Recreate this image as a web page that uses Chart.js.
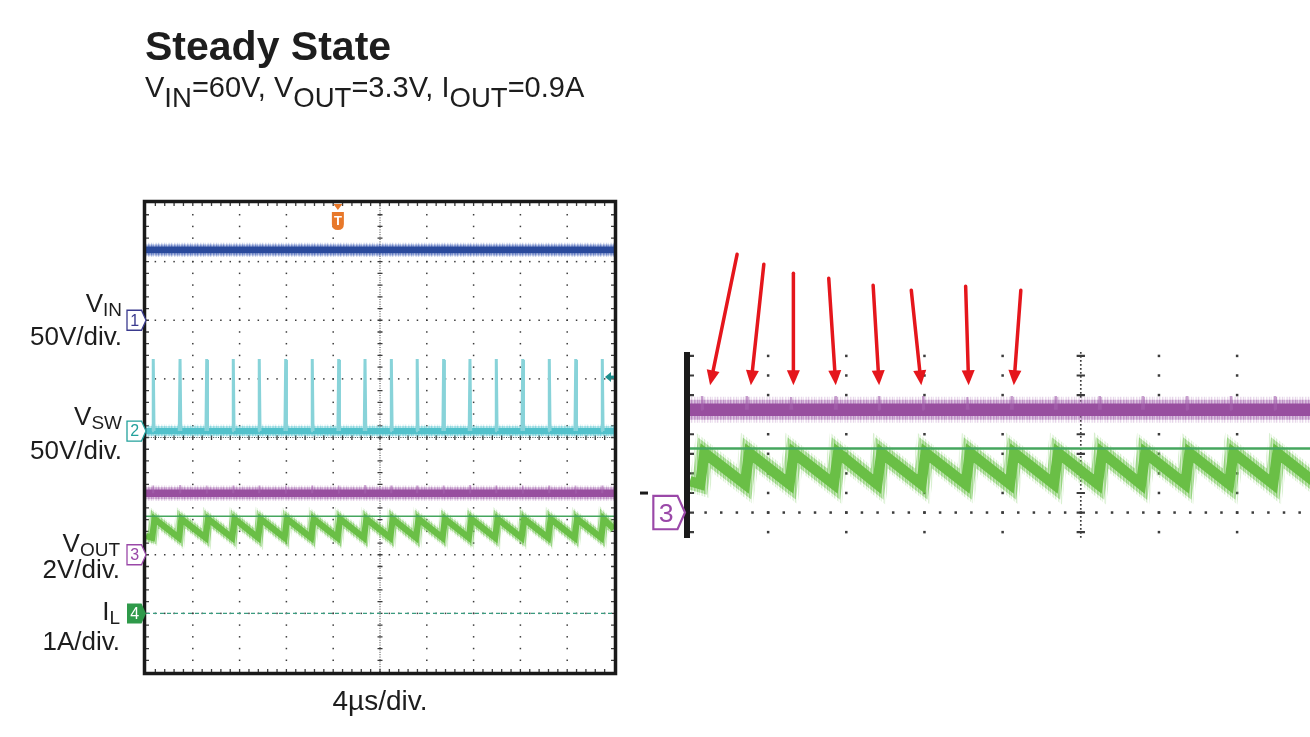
<!DOCTYPE html>
<html>
<head>
<meta charset="utf-8">
<script src="https://cdn.jsdelivr.net/npm/chart.js@4.4.1/dist/chart.umd.min.js"></script>
<style>
  body { margin:0; background:#fff; }
  #wrap { position:relative; width:1310px; height:737px; overflow:hidden; font-family:"Liberation Sans", Arial, sans-serif; color:#1d1d1d; }
  canvas { position:absolute; left:0; top:0; }
  .t { position:absolute; line-height:1; white-space:nowrap; }
  .lbl { font-size:26px; text-align:right; }
  .lbl sub { font-size:0.73em; vertical-align:baseline; position:relative; top:0.23em; }
  #sub sub { font-size:0.95em; vertical-align:baseline; position:relative; top:0.35em; }
</style>
</head>
<body>
<div id="wrap">
  <canvas id="scope" width="1310" height="737"></canvas>
  <canvas id="zoomView" width="1310" height="737"></canvas>

  <div class="t" id="title" style="left:145px; top:26px; font-size:41px; font-weight:bold;">Steady State</div>
  <div class="t" id="sub" style="left:145px; top:73px; font-size:29px;">V<sub>IN</sub>=60V, V<sub>OUT</sub>=3.3V, I<sub>OUT</sub>=0.9A</div>

  <div class="t lbl" style="right:1188px; top:290px;">V<sub>IN</sub></div>
  <div class="t lbl" style="right:1188px; top:323px;">50V/div.</div>
  <div class="t lbl" style="right:1188px; top:403px;">V<sub>SW</sub></div>
  <div class="t lbl" style="right:1188px; top:437px;">50V/div.</div>
  <div class="t lbl" style="right:1190px; top:530px;">V<sub>OUT</sub></div>
  <div class="t lbl" style="right:1190px; top:556px;">2V/div.</div>
  <div class="t lbl" style="right:1190px; top:598px;">I<sub>L</sub></div>
  <div class="t lbl" style="right:1190px; top:628px;">1A/div.</div>

  <div class="t" style="left:380px; top:687px; font-size:28px; transform:translateX(-50%);">4µs/div.</div>
</div>

<script>
// --- values: time in µs, level in divisions from the bottom ---
const switchTimes = [0.62, 2.91, 5.19, 7.46, 9.68, 11.94, 14.21, 16.47, 18.72, 20.97, 23.18, 25.44, 27.69, 29.94, 32.20, 34.47, 36.73, 39.00];
const vinLevel = 7.20;
const vswLow = 4.11;
const vswHigh = 5.32;
const voutLevel = 3.05;
const voutSpike = 3.18;
const ilStart = 2.32;
const ilTrough = 2.29;
const ilPeak = 2.61;
const ilEnd = 2.44;
const ilCursor = 2.655;
const ilZero = 1.0;
const channelRefs = [6.0, 4.11, 2.0, 1.0];   // tags 1..4
const triggerTime = 16.4;
const triggerLevel = 5.03;

const timeRange = [0, 40];
const divRange = [0, 8];
const zoomTime = [-0.05, 31.73];
const zoomDiv = [1.74, 3.64];
const arrowLevel = 3.30;
const arrowCount = 8;

// --- build point tables from the readings ---
const flat = (lvl) => [{ x: timeRange[0], y: lvl }, { x: timeRange[1], y: lvl }];

function spikes(base, top, half) {
  const pts = [];
  switchTimes.forEach(t => {
    pts.push({ x: t - half, y: base }, { x: t - half * 0.35, y: top }, { x: t + half * 0.35, y: top }, { x: t + half, y: base }, { x: t + half * 1.2, y: null });
  });
  return pts;
}

function sawtooth() {
  const pts = [{ x: timeRange[0], y: ilStart }];
  switchTimes.forEach(t => pts.push({ x: t - 0.1, y: ilTrough }, { x: t + 0.12, y: ilPeak }));
  pts.push({ x: timeRange[1], y: ilEnd });
  return pts;
}

// streaky stroke to fake scope noise on the trace edges
function streaks(ctx, rgb, alphas) {
  const c = document.createElement('canvas');
  c.width = alphas.length; c.height = 1;
  const g = c.getContext('2d');
  alphas.forEach((a, i) => { g.fillStyle = `rgba(${rgb},${a})`; g.fillRect(i, 0, 1, 1); });
  return ctx.createPattern(c, 'repeat');
}
const haloAlphas = [0.6, 0.45, 0.7, 0.5, 0.4, 0.65, 0.55, 0.42, 0.68, 0.5, 0.6, 0.38, 0.57];
const fuzzAlphas = [0.22, 0.05, 0.3, 0.1, 0.0, 0.25, 0.12, 0.04, 0.28, 0.08, 0.18, 0.0, 0.15];

function traceSets(ctx, s, full) {
  const sets = [];
  const add = (data, color, width, order, more) => sets.push(Object.assign({
    data, borderColor: color, borderWidth: width * s, order, pointRadius: 0, tension: 0, clip: 0, fill: false, spanGaps: false
  }, more || {}));
  const noisy = (data, core, rgb, width) => {
    add(data, core, width * 0.62, 1);
    add(data, streaks(ctx, rgb, haloAlphas), width, 2);
    add(data, streaks(ctx, rgb, fuzzAlphas), width * 1.3, 3);
  };

  if (full) {
    noisy(flat(vinLevel), '#2a4a9c', '70,100,185', 11);
    add(spikes(vswLow, vswHigh, 0.1), '#88d3d9', 2.2, 0);
    noisy(flat(vswLow), '#52c1cb', '110,205,214', 10);
    add(flat(ilZero), '#3a9c80', 1.4, 1, { borderDash: [4, 3] });
  }
  add(spikes(voutLevel, voutSpike, 0.05), 'rgba(165,100,175,0.6)', 1.2, 0);
  noisy(flat(voutLevel), '#984f9f', '170,110,180', 12);
  add(flat(ilCursor), '#45a65e', 1.5, 0);
  noisy(sawtooth(), '#6abf46', '120,200,90', 10);
  return sets;
}

// --- scope graticule ---
const scopeGrid = {
  id: 'scopeGrid',
  beforeDatasetsDraw(chart, args, opts) {
    const { ctx, chartArea: a, scales: { x, y } } = chart;
    const s = opts.s;
    const d = 1.5 * s;
    ctx.save();
    ctx.beginPath(); ctx.rect(a.left, a.top, a.width, a.height); ctx.clip();
    ctx.fillStyle = '#3c3c3c';
    for (let i = 1; i < 10; i++) {
      if (i === 5) continue;
      const px = x.getPixelForValue(i * 4);
      for (let k = 1; k < 40; k++) {
        const py = y.getPixelForValue(k * 0.2);
        ctx.fillRect(px - d / 2, py - d / 2, d, d);
      }
    }
    for (let j = 1; j < 8; j++) {
      if (j === 4) continue;
      const py = y.getPixelForValue(j);
      for (let k = 1; k < 50; k++) {
        const px = x.getPixelForValue(k * 0.8);
        ctx.fillRect(px - d / 2, py - d / 2, d, d);
      }
    }
    // centre cross
    ctx.strokeStyle = '#3c3c3c';
    ctx.lineWidth = 1 * s;
    const cx = x.getPixelForValue(20), cy = y.getPixelForValue(4);
    ctx.setLineDash([1 * s, 1.4 * s]);
    ctx.beginPath(); ctx.moveTo(cx, a.top); ctx.lineTo(cx, a.bottom); ctx.moveTo(a.left, cy); ctx.lineTo(a.right, cy); ctx.stroke();
    ctx.setLineDash([]);
    ctx.lineWidth = 1.3 * s;
    ctx.beginPath();
    for (let k = 1; k < 40; k++) {
      const py = y.getPixelForValue(k * 0.2);
      ctx.moveTo(cx - 2.5 * s, py); ctx.lineTo(cx + 2.5 * s, py);
    }
    for (let k = 1; k < 50; k++) {
      const px = x.getPixelForValue(k * 0.8);
      ctx.moveTo(px, cy - 2.5 * s); ctx.lineTo(px, cy + 2.5 * s);
    }
    // ticks on the frame
    const L = 3 * s;
    for (let k = 1; k < 40; k++) {
      const py = y.getPixelForValue(k * 0.2);
      ctx.moveTo(a.left, py); ctx.lineTo(a.left + L, py);
      if (opts.allEdges) { ctx.moveTo(a.right, py); ctx.lineTo(a.right - L, py); }
    }
    if (opts.allEdges) {
      for (let k = 1; k < 50; k++) {
        const px = x.getPixelForValue(k * 0.8);
        ctx.moveTo(px, a.top); ctx.lineTo(px, a.top + L);
        ctx.moveTo(px, a.bottom); ctx.lineTo(px, a.bottom - L);
      }
    }
    ctx.stroke();
    ctx.restore();
  }
};

function drawTag(ctx, tipX, cy, label, color, filled, s) {
  const w = 19 * s, h = 20 * s, nose = 4.5 * s;
  const x0 = tipX - w;
  ctx.save();
  ctx.beginPath();
  ctx.moveTo(x0, cy - h / 2);
  ctx.lineTo(tipX - nose, cy - h / 2);
  ctx.lineTo(tipX, cy);
  ctx.lineTo(tipX - nose, cy + h / 2);
  ctx.lineTo(x0, cy + h / 2);
  ctx.closePath();
  if (filled) {
    ctx.fillStyle = color; ctx.fill();
    ctx.fillStyle = '#fff';
  } else {
    ctx.fillStyle = '#fff'; ctx.fill();
    ctx.strokeStyle = color; ctx.lineWidth = 1.3 * s; ctx.stroke();
    ctx.fillStyle = color;
  }
  ctx.font = `${16 * s}px "Liberation Sans", Arial, sans-serif`;
  ctx.textAlign = 'center'; ctx.textBaseline = 'middle';
  ctx.fillText(label, x0 + (w - nose) / 2 + 0.5 * s, cy + 1 * s);
  ctx.restore();
}

const scopeMarks = {
  id: 'scopeMarks',
  afterDatasetsDraw(chart) {
    const { ctx, chartArea: a, scales: { x, y } } = chart;
    ctx.save();
    // frame
    ctx.strokeStyle = '#1a1a1a';
    ctx.lineWidth = 3.5;
    ctx.strokeRect(a.left - 1.5, a.top - 1.5, a.width + 3, a.height + 3);
    // channel tags
    const tagColors = ['#3a3a8e', '#23a19c', '#9a48a8', '#2f9a4a'];
    channelRefs.forEach((lvl, i) => drawTag(ctx, a.left, y.getPixelForValue(lvl), String(i + 1), tagColors[i], i === 3, 1));
    // trigger position
    const tx = x.getPixelForValue(triggerTime);
    ctx.fillStyle = '#e8782a';
    ctx.beginPath(); ctx.moveTo(tx - 4.5, a.top + 1); ctx.lineTo(tx + 4.5, a.top + 1); ctx.lineTo(tx, a.top + 7); ctx.closePath(); ctx.fill();
    ctx.beginPath();
    ctx.moveTo(tx - 6, a.top + 9); ctx.lineTo(tx + 6, a.top + 9); ctx.lineTo(tx + 6, a.top + 21);
    ctx.quadraticCurveTo(tx + 6, a.top + 27, tx, a.top + 27); ctx.quadraticCurveTo(tx - 6, a.top + 27, tx - 6, a.top + 21);
    ctx.closePath(); ctx.fill();
    ctx.fillStyle = '#fff';
    ctx.font = 'bold 13px "Liberation Sans", Arial, sans-serif';
    ctx.textAlign = 'center'; ctx.textBaseline = 'middle';
    ctx.fillText('T', tx, a.top + 18);
    // trigger level arrow at right edge
    const ly = y.getPixelForValue(triggerLevel);
    ctx.fillStyle = '#1f8e8c';
    ctx.beginPath(); ctx.moveTo(a.right - 9, ly); ctx.lineTo(a.right - 3, ly - 5); ctx.lineTo(a.right - 3, ly + 5); ctx.closePath(); ctx.fill();
    ctx.fillRect(a.right - 4, ly - 1.5, 4, 3);
    ctx.restore();
  }
};

const zoomMarks = {
  id: 'zoomMarks',
  afterDatasetsDraw(chart) {
    const { ctx, chartArea: a, scales: { x, y } } = chart;
    const s = 5 / 3;
    ctx.save();
    ctx.fillStyle = '#1a1a1a';
    ctx.fillRect(a.left - 5, a.top, 6, a.height);
    const gy = y.getPixelForValue(channelRefs[2]);
    drawTag(ctx, a.left - 4, gy, '3', '#9a48a8', false, s);
    ctx.fillStyle = '#1a1a1a';
    ctx.fillRect(a.left - 49, gy - 21, 8, 3);
    // red arrows on the switching spikes
    const nudge = [8, 4, 2, 0, 0, -2, 1, 2];
    const tails = [[27, -131], [13, -121], [0, -112], [-7, -107], [-6, -100], [-10, -95], [-3, -99], [7, -95]];
    ctx.strokeStyle = '#e5161c'; ctx.fillStyle = '#e5161c';
    ctx.lineWidth = 3.5; ctx.lineCap = 'round';
    const ty = y.getPixelForValue(arrowLevel);
    for (let i = 0; i < arrowCount; i++) {
      const tx = x.getPixelForValue(switchTimes[i]) + nudge[i];
      const sx = tx + tails[i][0], sy = ty + tails[i][1];
      const ang = Math.atan2(ty - sy, tx - sx);
      const hl = 15, hw = 6.5;
      const bx = tx - hl * Math.cos(ang), by = ty - hl * Math.sin(ang);
      ctx.beginPath(); ctx.moveTo(sx, sy); ctx.lineTo(bx, by); ctx.stroke();
      ctx.beginPath();
      ctx.moveTo(tx, ty);
      ctx.lineTo(bx + hw * Math.sin(ang), by - hw * Math.cos(ang));
      ctx.lineTo(bx - hw * Math.sin(ang), by + hw * Math.cos(ang));
      ctx.closePath(); ctx.fill();
    }
    ctx.restore();
  }
};

function scopeOptions(pad, xr, yr, gridOpts) {
  return {
    responsive: false,
    animation: false,
    devicePixelRatio: 1,
    layout: { padding: pad },
    scales: {
      x: { type: 'linear', min: xr[0], max: xr[1], display: false },
      y: { type: 'linear', min: yr[0], max: yr[1], display: false }
    },
    plugins: { legend: { display: false }, tooltip: { enabled: false }, scopeGrid: gridOpts },
    events: []
  };
}

const scopeCanvas = document.getElementById('scope');
new Chart(scopeCanvas, {
  type: 'line',
  data: { datasets: traceSets(scopeCanvas.getContext('2d'), 1, true) },
  options: scopeOptions({ left: 146, top: 203, right: 696, bottom: 65 }, timeRange, divRange, { s: 1, allEdges: true }),
  plugins: [scopeGrid, scopeMarks]
});

const zoomCanvas = document.getElementById('zoomView');
new Chart(zoomCanvas, {
  type: 'line',
  data: { datasets: traceSets(zoomCanvas.getContext('2d'), 5 / 3, false) },
  options: scopeOptions({ left: 689, top: 352, right: 0, bottom: 199 }, zoomTime, zoomDiv, { s: 5 / 3, allEdges: false }),
  plugins: [scopeGrid, zoomMarks]
});
</script>
</body>
</html>
